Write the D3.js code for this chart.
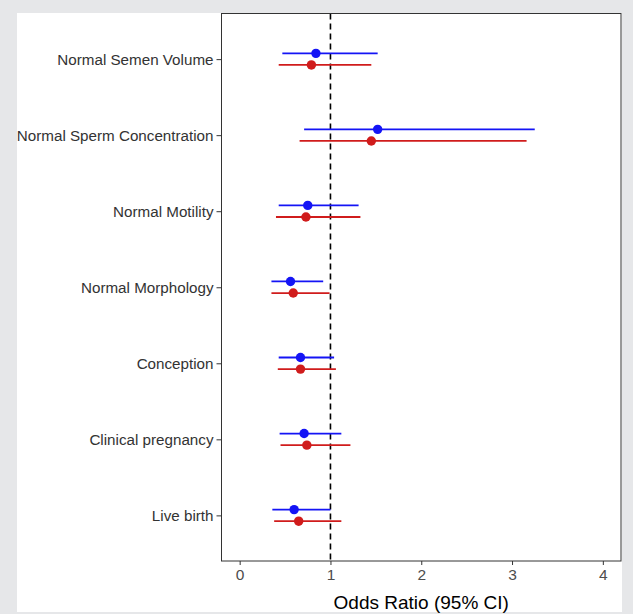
<!DOCTYPE html>
<html>
<head>
<meta charset="utf-8">
<script src="https://cdn.jsdelivr.net/npm/d3@7"></script>
<style>
  html, body { margin: 0; padding: 0; background: #e6e7e9; }
  svg { display: block; font-family: "Liberation Sans", Arial, sans-serif; }
</style>
</head>
<body>
<svg width="633" height="614"></svg>
<script>
// outcomes, top to bottom
const outcomes = ['Normal Semen Volume', 'Normal Sperm Concentration', 'Normal Motility',
  'Normal Morphology', 'Conception', 'Clinical pregnancy', 'Live birth'];

// blue series (upper row of each pair)
const blueOR  = [0.84, 1.52, 0.75, 0.56, 0.67, 0.71, 0.60];
const blueLow = [0.47, 0.71, 0.43, 0.35, 0.43, 0.44, 0.36];
const blueHigh = [1.52, 3.25, 1.31, 0.92, 1.04, 1.12, 1.00];

// red series (lower row)
const redOR  = [0.79, 1.45, 0.73, 0.59, 0.67, 0.74, 0.65];
const redLow = [0.43, 0.66, 0.40, 0.35, 0.42, 0.45, 0.38];
const redHigh = [1.45, 3.16, 1.33, 0.99, 1.06, 1.22, 1.12];

const xTicks = [0, 1, 2, 3, 4];

const svg = d3.select('svg');

// white card on the grey page
svg.append('rect')
  .attr('x', 17).attr('y', 13)
  .attr('width', 605).attr('height', 599)
  .attr('fill', '#fff');

const pLeft = 221.5, pRight = 621, pTop = 13.5, pBottom = 561;

const x = d3.scaleLinear().domain([-0.2, 4.2]).range([pLeft, pRight]);
const y = d3.scalePoint().domain(outcomes).range([pTop, pBottom]).padding(0.6);

const series = [
  { color: '#1414f5', off: -5.8, or: blueOR, lo: blueLow, hi: blueHigh },
  { color: '#d01c1c', off: 5.8, or: redOR, lo: redLow, hi: redHigh }
];

// reference line at OR = 1
svg.append('line')
  .attr('x1', x(1)).attr('x2', x(1))
  .attr('y1', pTop).attr('y2', pBottom)
  .attr('stroke', '#000')
  .attr('stroke-width', 1.6)
  .attr('stroke-dasharray', '6,4');

series.forEach(s => {
  const g = svg.append('g');
  g.selectAll('line')
    .data(outcomes)
    .enter()
    .append('line')
    .attr('x1', (d, i) => x(s.lo[i]))
    .attr('x2', (d, i) => x(s.hi[i]))
    .attr('y1', d => y(d) + s.off)
    .attr('y2', d => y(d) + s.off)
    .attr('stroke', s.color)
    .attr('stroke-width', 1.8);
  g.selectAll('circle')
    .data(outcomes)
    .enter()
    .append('circle')
    .attr('cx', (d, i) => x(s.or[i]))
    .attr('cy', d => y(d) + s.off)
    .attr('r', 4.7)
    .attr('fill', s.color);
});

// axes
const xAxis = svg.append('g')
  .attr('transform', `translate(0,${pBottom})`)
  .call(d3.axisBottom(x).tickValues(xTicks).tickFormat(d3.format('d'))
    .tickSize(4).tickPadding(4).tickSizeOuter(0));
xAxis.select('.domain').remove();
xAxis.selectAll('line').attr('stroke', '#333');
xAxis.selectAll('text').attr('fill', '#4d4d4d').style('font-size', '15.5px');

const yAxis = svg.append('g')
  .attr('transform', `translate(${pLeft},0)`)
  .call(d3.axisLeft(y).tickSize(5).tickPadding(3).tickSizeOuter(0));
yAxis.select('.domain').remove();
yAxis.selectAll('line').attr('stroke', '#333');
yAxis.selectAll('text').attr('fill', '#333').style('font-size', '15.2px');

// panel border
svg.append('rect')
  .attr('x', pLeft).attr('y', pTop)
  .attr('width', pRight - pLeft).attr('height', pBottom - pTop)
  .attr('fill', 'none')
  .attr('stroke', '#333')
  .attr('stroke-width', 1);

svg.append('text')
  .attr('x', (pLeft + pRight) / 2)
  .attr('y', 609)
  .attr('text-anchor', 'middle')
  .attr('fill', '#000')
  .style('font-size', '19px')
  .text('Odds Ratio (95% CI)');
</script>
</body>
</html>
